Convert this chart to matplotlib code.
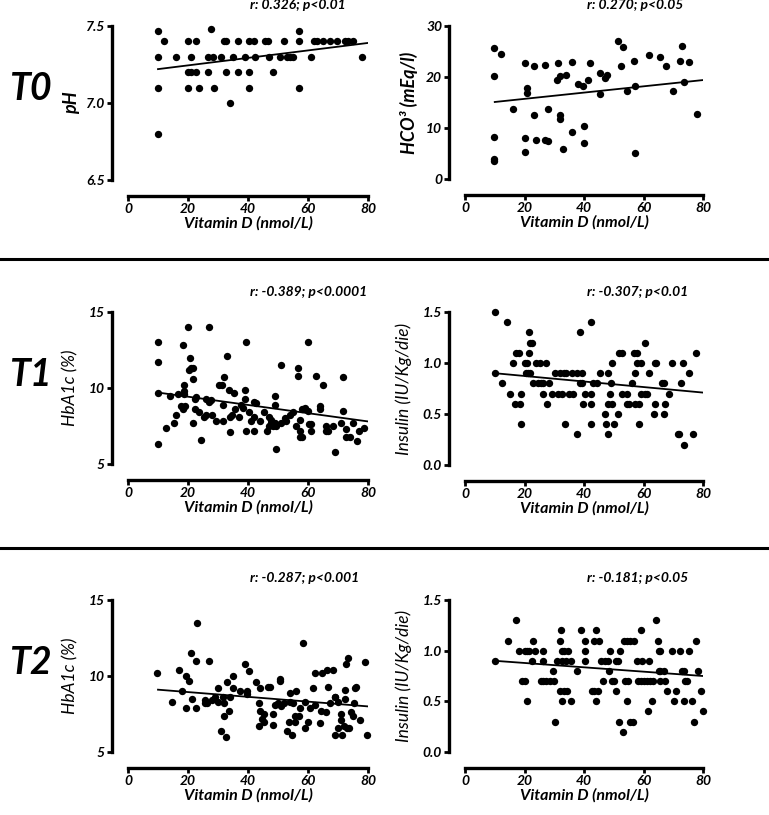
import numpy as np
import matplotlib
matplotlib.use("Agg")
import matplotlib.pyplot as plt
from matplotlib.lines import Line2D

plt.rcParams['font.family'] = ['Lato', 'DejaVu Sans']

# ---------------- data ----------------
ph_vitd = [10, 10, 10, 10, 12, 16, 20, 20, 20, 21, 21, 22.5, 22.5, 23.5, 26.5, 26.5, 27.5, 28.3, 28.5, 31,
           32, 32.7, 32.5, 34, 35, 36.7, 36.7, 39, 40.2, 40.2, 40.2, 42, 42.4, 45.5, 46.5, 47, 48.3, 50.5,
           52, 53, 54, 55, 57, 57, 57, 61, 62, 63, 65, 67.3, 69.6, 72.3, 73.4, 75, 78]
ph_vals = [7.47, 7.3, 7.1, 6.8, 7.4, 7.3, 7.4, 7.2, 7.1, 7.3, 7.2, 7.4, 7.2, 7.1, 7.2, 7.3, 7.48, 7.3, 7.1, 7.3,
           7.4, 7.4, 7.2, 7.0, 7.3, 7.4, 7.2, 7.3, 7.4, 7.2, 7.1, 7.4, 7.3, 7.4, 7.4, 7.3, 7.2, 7.3,
           7.4, 7.3, 7.3, 7.3, 7.47, 7.4, 7.1, 7.3, 7.4, 7.4, 7.4, 7.4, 7.4, 7.4, 7.4, 7.4, 7.3]
ph_fit = [7.22, 7.39]

hco3_vitd = [9.8, 9.8, 9.8, 9.8, 9.8, 12, 16.3, 20.2, 20.2, 20.2, 20.8, 20.8, 23.2, 23.2, 23.9, 26.9, 26.9,
             28, 28, 31.2, 30.9, 32, 32, 32, 33.1, 34, 35.8, 36, 38.1, 39.5, 40, 40, 41.5, 42.1, 45.4, 45.4,
             47.1, 47.7, 51.3, 52.4, 53, 54.6, 56.7, 57.2, 57.2, 62, 65.4, 67.5, 69.9, 72.4, 72.9, 73.7,
             75.4, 78]
hco3_vals = [25.6, 20.2, 8.3, 4.0, 3.6, 24.5, 13.7, 22.7, 8.0, 5.2, 17.8, 16.8, 22.2, 12.6, 7.6, 22.3, 7.6,
             7.4, 13.7, 22.7, 19.4, 20.1, 12.6, 11.7, 5.9, 20.3, 23.0, 9.3, 18.6, 18.3, 10.4, 7.0, 19.4, 22.8,
             20.7, 16.7, 19.8, 20.4, 27.1, 22.2, 25.8, 17.3, 23.2, 18.3, 5.1, 24.3, 24.0, 22.2, 17.3, 23.2,
             26.1, 19.0, 22.9, 12.8]
hco3_fit = [15.1, 19.4]

hba1c_t1_vitd = [10, 10, 10, 10, 12.6, 13.9, 15.2, 16.1, 16.8, 17.8, 18.3, 18.3, 18.7, 18.7, 18.7, 18.9, 20,
                 20.3, 20.6, 21.1, 21.7, 21.7, 21.7, 22.2, 22.2, 22.8, 23.7, 24.4, 25.2, 25.9, 25.9, 27, 27,
                 27.8, 28.1, 29.4, 30.3, 31.3, 31.7, 31.7, 32, 33, 33.6, 33.9, 34.1, 34.8, 35.4, 35.8, 37,
                 37.8, 38.3, 38.9, 38.9, 39.2, 39.4, 40.3, 41.1, 41.9, 41.9, 41.9, 42.6, 43.9, 45.3, 46.4,
                 47, 47, 47.6, 47.6, 48.3, 48.9, 48.9, 48.9, 49.4, 49.4, 51.1, 51.1, 52.2, 52.8, 53.9, 55,
                 55.9, 56.7, 56.7, 57.2, 57.2, 57.2, 58.1, 58.1, 58.9, 60, 60, 60.3, 61.1, 61.1, 62.8, 63.9,
                 63.9, 65, 66.1, 66.1, 66.7, 68.3, 68.9, 71.1, 71.7, 71.7, 72.8, 72.8, 74, 75, 76.4, 77.1,
                 78.5]
hba1c_t1_vals = [13.0, 11.7, 9.7, 6.3, 7.4, 9.5, 7.7, 8.2, 9.6, 8.8, 12.8, 8.6, 9.8, 9.6, 10.2, 8.8, 14.0,
                 11.2, 12.0, 11.3, 11.3, 10.6, 7.7, 8.6, 9.3, 9.4, 8.4, 6.6, 8.1, 8.2, 9.3, 14.0, 9.1,
                 9.2, 8.2, 7.8, 10.2, 10.2, 8.9, 7.8, 10.7, 12.1, 9.9, 7.1, 8.1, 8.2, 9.7, 8.6, 8.1,
                 8.9, 8.7, 9.9, 9.3, 7.2, 13.0, 8.4, 7.8, 9.1, 7.2, 8.1, 9.0, 7.8, 8.4, 7.2,
                 8.1, 7.5, 7.7, 7.9, 7.5, 8.9, 9.5, 7.7, 7.5, 6.0, 11.5, 7.7, 8.0, 7.8, 8.2, 8.4,
                 7.5, 11.3, 10.8, 7.2, 7.9, 6.8, 6.8, 8.6, 8.7, 13.0, 8.5, 7.6, 7.6, 7.2, 10.8, 8.8,
                 8.6, 10.2, 7.2, 7.5, 7.2, 7.5, 5.8, 7.7, 8.5, 10.7, 6.8, 7.3, 6.8, 7.7, 6.5, 7.2,
                 7.4]
hba1c_t1_fit = [9.7, 7.8]

ins_t1_vitd = [10.1, 10.1, 12.3, 14, 15.1, 16.2, 16.8, 17.3, 18.1, 18.5, 18.9, 18.9, 20, 20.4, 20.7, 21.1,
               21.5, 21.5, 21.8, 22, 22.6, 22.9, 23.7, 24.5, 25.2, 25.4, 26.3, 26.3, 27.1, 27.6, 28.2, 29.3,
               30.4, 31.3, 31.9, 32.7, 33.2, 33.6, 34.1, 34.9, 35.8, 36.2, 37.5, 37.5, 38.8, 38.8, 39.4,
               39.4, 39.7, 40.3, 42.4, 42.4, 42.4, 42.4, 43.1, 44.4, 45.5, 46.9, 47.5, 48, 48, 48, 48.7,
               49.1, 49.4, 49.4, 50, 51.3, 51.7, 52.8, 52.8, 54.3, 54.3, 55, 56.2, 56.9, 57.3, 57.3, 57.8,
               57.8, 58.4, 58.4, 59, 59.2, 60.6, 60.6, 61.2, 61.7, 63.4, 64, 64, 64.3, 66.2, 66.8, 66.8,
               67.3, 68.5, 69.6, 71.5, 72.1, 72.6, 73.3, 73.7, 75.4, 76.8, 77.6]
ins_t1_vals = [1.5, 0.9, 0.8, 1.4, 0.7, 1.0, 0.6, 1.1, 1.1, 0.6, 0.7, 0.4, 1.0, 0.9, 1.0, 0.9,
               1.3, 1.1, 0.9, 1.2, 1.2, 0.8, 1.0, 0.8, 1.0, 0.8, 0.7, 0.8, 1.0, 0.6, 0.8, 0.7,
               0.9, 0.7, 0.9, 0.7, 0.9, 0.4, 0.9, 0.7, 0.9, 0.7, 0.3, 0.9, 1.3, 0.8, 0.9,
               0.8, 0.6, 0.7, 1.4, 0.4, 0.6, 0.7, 0.8, 0.8, 0.9, 0.5, 0.4, 0.9, 0.3, 0.6, 0.7,
               0.8, 1.0, 0.6, 0.4, 0.5, 1.1, 1.1, 0.7, 0.6, 0.7, 0.6, 0.8, 1.1, 0.9, 0.6, 1.1,
               1.0, 0.6, 0.4, 1.0, 0.7, 1.2, 0.7, 0.7, 0.9, 0.5, 1.0, 0.6, 1.0, 0.8, 0.8, 0.5,
               0.6, 0.7, 1.0, 0.3, 0.3, 0.8, 1.0, 0.2, 0.9, 0.3, 1.1]
ins_t1_fit = [0.90, 0.71]

hba1c_t2_vitd = [9.8, 14.7, 16.9, 18.1, 19.2, 19.2, 20.3, 20.9, 21.3, 22.6, 22.6, 23.1, 25.6, 25.6, 26.3,
                 26.9, 28, 28.9, 30, 30, 30.9, 31.7, 32, 32, 32.6, 33, 33.7, 34.1, 35, 35, 37.2, 38.9, 39.7,
                 39.7, 40.2, 42.6, 43.7, 43.7, 44.1, 44.1, 44.8, 45.2, 45.2, 46.7, 47.2, 48.3, 48.3, 48.9,
                 50, 50.6, 50.6, 51.1, 51.9, 53.1, 53.7, 53.9, 53.9, 54.8, 55, 55.6, 55.6, 56.1, 56.9, 57.2,
                 58.4, 58.9, 58.9, 60, 60.6, 61.7, 62.2, 62.2, 63.9, 64.4, 64.7, 66.1, 66.4, 66.7, 67.2,
                 68.4, 68.9, 68.9, 69.1, 70, 70, 71.1, 71.1, 71.3, 72, 72.2, 72.2, 72.8, 73, 73.4, 73.6,
                 74.4, 75, 75.2, 75.6, 76, 77.3, 79, 79.7]
hba1c_t2_vals = [10.2, 8.3, 10.4, 9.0, 7.9, 10.0, 9.7, 11.5, 8.5, 11.0, 7.9, 13.5, 8.4, 8.2, 8.2,
                 11.0, 8.4, 8.6, 9.2, 8.3, 6.4, 8.6, 8.2, 7.4, 6.0, 9.6, 7.7, 8.6, 10.0, 9.2, 9.0, 10.8, 9.0,
                 8.8, 10.3, 9.6, 8.2, 6.7, 9.2, 7.7, 7.2, 7.0, 7.5, 9.3, 9.3, 6.8, 7.5, 8.1,
                 8.2, 9.8, 9.7, 8.0, 8.2, 6.4, 7.0, 8.9, 8.3, 6.1, 8.2, 7.4, 7.0, 9.0, 7.4, 7.9,
                 12.2, 8.3, 6.6, 7.0, 7.9, 9.2, 10.2, 8.1, 6.9, 7.7, 10.2, 7.6, 10.4, 9.3, 8.2,
                 10.4, 8.6, 6.1, 8.6, 6.6, 8.3, 7.5, 7.1, 6.1, 6.7, 9.1, 8.5, 10.8, 6.6, 11.2, 6.6,
                 7.6, 7.4, 8.2, 9.2, 9.3, 7.1, 10.9, 6.1]
hba1c_t2_fit = [9.1, 8.0]

ins_t2_vitd = [10.1, 14.5, 17, 18.1, 19.2, 20, 20, 20.9, 20.9, 21.5, 22.4, 22.7, 23.5, 25.4, 26.2, 26.2,
               26.2, 27.1, 28.5, 29.5, 29.9, 30.1, 31, 31.9, 32.1, 32.4, 32.7, 32.7, 32.7, 33.2, 33.2, 34,
               34.3, 34.7, 35.5, 35.7, 37.7, 39.1, 40.2, 40.2, 40.5, 42.7, 43.3, 43.5, 44.2, 44.2, 44.6, 45,
               45.7, 46.4, 46.9, 48, 48.5, 48.9, 49.4, 50, 50.6, 50.9, 51.3, 51.9, 52.2, 53.1, 53.6, 53.9,
               54.3, 54.5, 54.8, 55.6, 55.6, 56.4, 56.7, 57.8, 58.1, 59, 59.2, 59.5, 60.1, 61.2, 61.4,
               61.7, 62.3, 62.9, 63.2, 64.3, 64.8, 65.1, 65.1, 65.7, 65.7, 65.7, 66.8, 67.3, 67.9, 69.6,
               70.4, 71, 72.4, 72.9, 73.5, 73.5, 73.8, 74.6, 75.2, 76.3, 77.1, 77.6, 78.2, 79.4, 80]
ins_t2_vals = [0.9, 1.1, 1.3, 1.0, 0.7, 0.7, 1.0, 1.0, 0.5, 1.0, 0.9, 1.1, 1.0, 0.7, 1.0, 0.9,
               0.7, 0.7, 0.7, 0.8, 0.7, 0.3, 0.9, 0.6, 1.1, 1.2, 0.5, 0.9, 1.0, 0.6, 1.0, 0.9,
               0.6, 1.0, 0.5, 0.9, 0.8, 1.2, 1.0, 0.9, 1.1, 0.6, 1.1, 0.6, 1.2, 0.5, 0.6, 1.1,
               0.9, 0.7, 0.9, 0.9, 0.8, 1.0, 0.7, 0.7, 0.9, 0.6, 0.9, 0.3, 1.0, 0.2, 1.1, 0.7,
               0.5, 1.1, 0.7, 1.1, 0.3, 0.3, 1.1, 0.9, 0.7, 0.7, 1.2, 0.9, 0.7, 0.7, 0.4,
               0.9, 0.7, 0.5, 0.7, 1.3, 1.1, 0.8, 1.0, 0.8, 1.0, 0.7, 0.8, 0.7, 0.6, 1.0,
               0.5, 0.6, 1.0, 0.8, 0.8, 0.5, 0.7, 0.7, 1.0, 0.5, 0.3, 1.1, 0.8, 0.6, 0.4]
ins_t2_fit = [0.90, 0.75]

fit_x = [10, 80]
x_ticks = [0, 20, 40, 60, 80]

row_labels = ['T0', 'T1', 'T2']
x_label = 'Vitamin D (nmol/L)'

# ---------------- layout ----------------
W, H = 769, 815
fig = plt.figure(figsize=(W / 100, H / 100), dpi=100)
PX = 72 / 100  # points per pixel


def fx(px):
    return px / W


def fy(py):
    return 1 - py / H


TXT = dict(fontweight='bold', fontstyle='italic')


def panel(x0, x1, ytop, ybot, xs, ys, fit, ylim, yticks, yticklabels, ylabel, ylabel_px,
          ylabel_bold=True):
    ax = fig.add_axes([fx(x0), fy(ybot), fx(x1) - fx(x0), (ybot - ytop) / H])
    ax.scatter(xs, ys, s=28, color='black', linewidths=0, zorder=3, clip_on=False)
    ax.plot(fit_x, fit, color='black', lw=1.3, zorder=2)
    ax.set_xlim(0, 80)
    ax.set_ylim(*ylim)
    for s in ['top', 'right']:
        ax.spines[s].set_visible(False)
    ax.spines['left'].set_position(('outward', 16 * PX))
    ax.spines['bottom'].set_position(('outward', 16 * PX))
    ax.spines['left'].set_linewidth(2.4)
    ax.spines['bottom'].set_linewidth(2.4)
    ax.spines['left'].set_bounds(*ylim)
    ax.spines['bottom'].set_bounds(0, 80)
    ax.set_xticks(x_ticks)
    ax.set_xticklabels([str(t) for t in x_ticks])
    ax.set_yticks(yticks)
    ax.set_yticklabels(yticklabels)
    ax.tick_params(direction='out', length=3.5, width=2, pad=1.5)
    for lab in ax.get_xticklabels() + ax.get_yticklabels():
        lab.set_fontsize(10)
        lab.set_fontweight('bold')
        lab.set_fontstyle('italic')
    ax.set_xlabel(x_label, fontsize=11.5, labelpad=1, **TXT)
    ax.set_ylabel(ylabel, fontsize=13 if ylabel_bold else 12.5, va='center',
                  fontweight='bold' if ylabel_bold else 'normal', fontstyle='italic')
    ax.yaxis.set_label_coords((ylabel_px - x0) / (x1 - x0), 0.5)
    ax.patch.set_alpha(0)
    return ax


# row 1
panel(128, 368, 26, 180, ph_vitd, ph_vals, ph_fit, (6.5, 7.5), [6.5, 7.0, 7.5],
      ['6.5', '7.0', '7.5'], 'pH', 72)
panel(465, 703, 26, 179, hco3_vitd, hco3_vals, hco3_fit, (0, 30), [0, 10, 20, 30],
      ['0', '10', '20', '30'], 'HCO³ (mEq/l)', 409)
# row 2
panel(128, 368, 312, 464, hba1c_t1_vitd, hba1c_t1_vals, hba1c_t1_fit, (5, 15), [5, 10, 15],
      ['5', '10', '15'], 'HbA1c (%)', 70, ylabel_bold=False)
panel(465, 703, 312, 465, ins_t1_vitd, ins_t1_vals, ins_t1_fit, (0, 1.5), [0, 0.5, 1.0, 1.5],
      ['0.0', '0.5', '1.0', '1.5'], 'Insulin (IU/Kg/die)', 404, ylabel_bold=False)
# row 3
panel(128, 368, 600, 752, hba1c_t2_vitd, hba1c_t2_vals, hba1c_t2_fit, (5, 15), [5, 10, 15],
      ['5', '10', '15'], 'HbA1c (%)', 70, ylabel_bold=False)
panel(465, 703, 600, 752, ins_t2_vitd, ins_t2_vals, ins_t2_fit, (0, 1.5), [0, 0.5, 1.0, 1.5],
      ['0.0', '0.5', '1.0', '1.5'], 'Insulin (IU/Kg/die)', 404, ylabel_bold=False)

# correlation annotations
titles = [('r: 0.326; p<0.01', 250, 5), ('r: 0.270; p<0.05', 587, 5),
          ('r: -0.389; p<0.0001', 250, 292), ('r: -0.307; p<0.01', 587, 292),
          ('r: -0.287; p<0.001', 250, 578), ('r: -0.181; p<0.05', 587, 578)]
for t, px, py in titles:
    fig.text(fx(px), fy(py), t, ha='left', va='center', fontsize=10, **TXT)

# row labels
for lab, py in zip(row_labels, [88, 375, 662]):
    fig.text(fx(30), fy(py), lab, ha='center', va='center', fontsize=27, **TXT)

# separators
for py in [259, 548]:
    fig.add_artist(Line2D([0, 1], [fy(py), fy(py)], color='black', lw=2.2))

fig.savefig('out.png', dpi=100, facecolor='white')
